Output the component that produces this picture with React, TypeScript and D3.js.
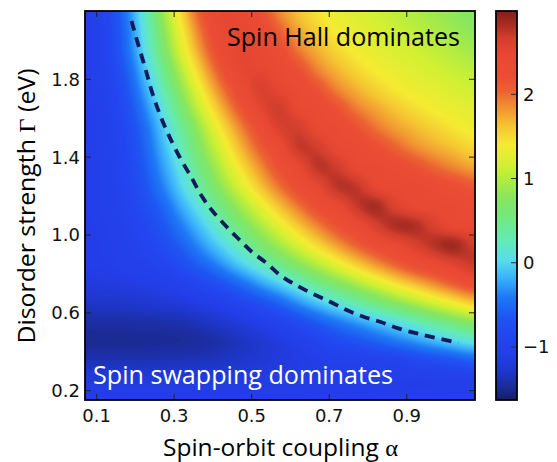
import React, { useMemo } from 'react';
import * as d3 from 'd3';

// grid nodes (alpha columns, Gamma rows from top to bottom)
const alphaNodes = [0.07, 0.12, 0.17, 0.22, 0.27, 0.32, 0.37, 0.42, 0.47, 0.52, 0.57, 0.62, 0.67, 0.72, 0.77, 0.82, 0.87, 0.92, 0.97, 1.02, 1.07];
const gammaNodes = [2.15, 2.05, 1.95, 1.85, 1.75, 1.65, 1.55, 1.45, 1.35, 1.25, 1.15, 1.05, 0.95, 0.85, 0.75, 0.65, 0.55, 0.45, 0.35, 0.25, 0.15];

const values = [
  [-1.08, -0.92, -0.50, 0.14, 0.85, 1.53, 2.13, 2.47, 2.44, 2.25, 1.88, 1.63, 1.44, 1.32, 1.24, 1.15, 1.07, 0.99, 0.89, 0.81, 0.72],
  [-1.08, -0.93, -0.54, 0.07, 0.74, 1.39, 1.99, 2.42, 2.48, 2.37, 2.08, 1.77, 1.55, 1.39, 1.30, 1.22, 1.13, 1.06, 0.98, 0.89, 0.81],
  [-1.08, -0.93, -0.57, -0.01, 0.62, 1.25, 1.84, 2.31, 2.50, 2.44, 2.28, 1.95, 1.71, 1.52, 1.37, 1.29, 1.22, 1.15, 1.08, 1.00, 0.92],
  [-1.08, -0.96, -0.65, -0.14, 0.45, 1.05, 1.63, 2.14, 2.47, 2.51, 2.40, 2.20, 1.90, 1.69, 1.52, 1.39, 1.31, 1.24, 1.17, 1.11, 1.05],
  [-1.09, -0.98, -0.73, -0.27, 0.27, 0.84, 1.40, 1.92, 2.33, 2.60, 2.50, 2.37, 2.17, 1.90, 1.71, 1.55, 1.42, 1.33, 1.28, 1.21, 1.15],
  [-1.09, -1.00, -0.79, -0.40, 0.09, 0.63, 1.17, 1.68, 2.13, 2.49, 2.67, 2.45, 2.35, 2.18, 1.93, 1.76, 1.61, 1.48, 1.38, 1.32, 1.27],
  [-1.09, -1.02, -0.85, -0.52, -0.07, 0.42, 0.93, 1.43, 1.88, 2.27, 2.60, 2.65, 2.44, 2.35, 2.19, 1.97, 1.80, 1.67, 1.55, 1.44, 1.35],
  [-1.09, -1.02, -0.88, -0.58, -0.17, 0.28, 0.76, 1.22, 1.67, 2.07, 2.37, 2.71, 2.66, 2.44, 2.36, 2.23, 2.05, 1.87, 1.74, 1.63, 1.52],
  [-1.09, -1.03, -0.90, -0.64, -0.27, 0.13, 0.58, 1.02, 1.45, 1.84, 2.20, 2.45, 2.75, 2.67, 2.45, 2.40, 2.32, 2.19, 2.03, 1.89, 1.77],
  [-1.09, -1.03, -0.92, -0.70, -0.38, 0.00, 0.40, 0.81, 1.21, 1.60, 1.96, 2.27, 2.48, 2.75, 2.73, 2.48, 2.43, 2.40, 2.33, 2.24, 2.13],
  [-1.09, -1.04, -0.95, -0.78, -0.53, -0.19, 0.16, 0.54, 0.91, 1.28, 1.63, 1.96, 2.25, 2.43, 2.71, 2.83, 2.59, 2.45, 2.43, 2.40, 2.34],
  [-1.10, -1.06, -0.98, -0.86, -0.66, -0.38, -0.07, 0.26, 0.61, 0.95, 1.28, 1.61, 1.91, 2.18, 2.38, 2.63, 2.81, 2.80, 2.61, 2.45, 2.43],
  [-1.10, -1.08, -1.01, -0.92, -0.77, -0.56, -0.29, -0.01, 0.29, 0.61, 0.92, 1.22, 1.52, 1.80, 2.06, 2.28, 2.43, 2.61, 2.77, 2.86, 2.68],
  [-1.10, -1.09, -1.05, -0.99, -0.90, -0.75, -0.55, -0.32, -0.06, 0.20, 0.48, 0.76, 1.03, 1.30, 1.57, 1.82, 2.05, 2.26, 2.40, 2.56, 2.70],
  [-1.18, -1.17, -1.15, -1.12, -1.07, -0.98, -0.86, -0.70, -0.50, -0.27, -0.04, 0.21, 0.47, 0.71, 0.96, 1.20, 1.44, 1.66, 1.87, 2.08, 2.26],
  [-1.30, -1.29, -1.28, -1.26, -1.23, -1.19, -1.12, -1.03, -0.90, -0.73, -0.55, -0.32, -0.10, 0.11, 0.32, 0.54, 0.75, 0.96, 1.17, 1.38, 1.57],
  [-1.44, -1.43, -1.43, -1.42, -1.41, -1.39, -1.34, -1.27, -1.18, -1.08, -0.95, -0.79, -0.61, -0.44, -0.28, -0.11, 0.05, 0.23, 0.41, 0.59, 0.77],
  [-1.49, -1.49, -1.49, -1.48, -1.48, -1.47, -1.45, -1.40, -1.33, -1.25, -1.16, -1.06, -0.94, -0.80, -0.70, -0.58, -0.45, -0.32, -0.18, -0.05, 0.08],
  [-1.37, -1.37, -1.37, -1.37, -1.36, -1.35, -1.34, -1.31, -1.27, -1.23, -1.18, -1.14, -1.09, -1.04, -1.02, -0.99, -0.95, -0.85, -0.78, -0.70, -0.60],
  [-1.17, -1.17, -1.17, -1.17, -1.17, -1.17, -1.17, -1.16, -1.15, -1.14, -1.13, -1.12, -1.11, -1.10, -1.10, -1.10, -1.09, -1.08, -1.07, -1.06, -1.05],
  [-1.10, -1.10, -1.10, -1.10, -1.10, -1.10, -1.10, -1.10, -1.10, -1.09, -1.09, -1.09, -1.08, -1.08, -1.08, -1.07, -1.07, -1.06, -1.06, -1.05, -1.05],
];

// dashed boundary curve
const dashAlpha = [0.19, 0.207, 0.225, 0.242, 0.263, 0.285, 0.315, 0.345, 0.371, 0.397, 0.431, 0.465, 0.5, 0.539, 0.573, 0.607, 0.655, 0.702, 0.745, 0.788, 0.831, 0.878, 0.926, 0.973, 1.033];
const dashGamma = [2.10, 1.98, 1.86, 1.74, 1.62, 1.517, 1.397, 1.294, 1.20, 1.128, 1.051, 0.982, 0.914, 0.854, 0.794, 0.751, 0.70, 0.657, 0.614, 0.58, 0.554, 0.52, 0.494, 0.472, 0.445];

const xTicks = [0.1, 0.3, 0.5, 0.7, 0.9];
const yTicks = [0.2, 0.6, 1.0, 1.4, 1.8];
const cbTicks = [-1, 0, 1, 2];

const cmapValues = [-1.63, -1.5, -1.3, -1.1, -0.85, -0.65, -0.41, -0.17, 0.03, 0.27, 0.55, 0.77, 0.96, 1.16, 1.40, 1.63, 1.87, 2.03, 2.20, 2.47, 2.67, 2.82, 2.99];
const cmapColors = ['#141e64', '#1a2a92', '#1e36c8', '#233ee8', '#2346f0', '#1e55f2', '#1e78f5', '#3cb4fa', '#5adceb', '#64ebb4', '#73e87d', '#87e65f', '#aaeb46', '#d2f032', '#f5eb32', '#f5c332', '#f08c32', '#eb6432', '#eb4e34', '#e84832', '#d23e2d', '#aa2d23', '#7d2019'];

const PL = 85, PR = 475, PT = 11, PB = 400;
const CBL = 496, CBR = 517;

function cr(p0: number, p1: number, p2: number, p3: number, t: number) {
  return 0.5 * (2 * p1 + (-p0 + p2) * t + (2 * p0 - 5 * p1 + 4 * p2 - p3) * t * t + (-p0 + 3 * p1 - 3 * p2 + p3) * t * t * t);
}

export default function App() {
  const x = d3.scaleLinear().domain([0.07, 1.076]).range([PL, PR]);
  const y = d3.scaleLinear().domain([0.152, 2.151]).range([PB, PT]);
  const cbY = d3.scaleLinear().domain([-1.63, 2.99]).range([PB, PT]);
  const color = d3.scaleLinear<string>().domain(cmapValues).range(cmapColors).interpolate(d3.interpolateRgb).clamp(true);

  const href = useMemo(() => {
    const w = PR - PL, h = PB - PT;
    const canvas = document.createElement('canvas');
    canvas.width = w; canvas.height = h;
    const ctx = canvas.getContext('2d');
    if (!ctx) return '';
    const img = ctx.createImageData(w, h);
    const N = 600;
    const lut: number[][] = [];
    for (let k = 0; k <= N; k++) {
      const v = -1.63 + (k / N) * (2.99 + 1.63);
      const c = d3.rgb(color(v));
      lut.push([c.r, c.g, c.b]);
    }
    const nA = alphaNodes.length, nG = gammaNodes.length;
    const da = alphaNodes[1] - alphaNodes[0];
    const dg = gammaNodes[0] - gammaNodes[1];
    const cl = (i: number, n: number) => Math.max(0, Math.min(n - 1, i));
    for (let py = 0; py < h; py++) {
      const g = y.invert(PT + py + 0.5);
      let fj = (gammaNodes[0] - g) / dg;
      fj = Math.max(0, Math.min(nG - 1.0001, fj));
      const j0 = Math.floor(fj), tj = fj - j0;
      for (let px = 0; px < w; px++) {
        const a = x.invert(PL + px + 0.5);
        let fi = (a - alphaNodes[0]) / da;
        fi = Math.max(0, Math.min(nA - 1.0001, fi));
        const i0 = Math.floor(fi), ti = fi - i0;
        const rows: number[] = [];
        for (let dj = -1; dj <= 2; dj++) {
          const r = values[cl(j0 + dj, nG)];
          rows.push(cr(r[cl(i0 - 1, nA)], r[cl(i0, nA)], r[cl(i0 + 1, nA)], r[cl(i0 + 2, nA)], ti));
        }
        const v = cr(rows[0], rows[1], rows[2], rows[3], tj);
        let k = Math.round(((v + 1.63) / (2.99 + 1.63)) * N);
        k = Math.max(0, Math.min(N, k));
        const c = lut[k];
        const idx = (py * w + px) * 4;
        img.data[idx] = c[0]; img.data[idx + 1] = c[1]; img.data[idx + 2] = c[2]; img.data[idx + 3] = 255;
      }
    }
    ctx.putImageData(img, 0, 0);
    return canvas.toDataURL();
  }, []);

  const dashLine = d3.line<number>()
    .x((_, i) => x(dashAlpha[i]))
    .y((_, i) => y(dashGamma[i]))
    .curve(d3.curveCatmullRom)(dashAlpha) || '';

  const tickFont = { fontFamily: 'DejaVu Sans', fontSize: 18, fill: '#111' } as const;
  const labFont = '"Open Sans", Lato, sans-serif';

  return (
    <svg width={557} height={462} style={{ position: 'absolute', left: 0, top: 0, background: '#fff' }}>
      <defs>
        <linearGradient id="cbgrad" x1="0" y1="1" x2="0" y2="0">
          {cmapValues.map((v, i) => (
            <stop key={i} offset={(v + 1.63) / (2.99 + 1.63)} stopColor={cmapColors[i]} />
          ))}
        </linearGradient>
      </defs>
      <image href={href} x={PL} y={PT} width={PR - PL} height={PB - PT} preserveAspectRatio="none" />
      <path d={dashLine} fill="none" stroke="#121c5a" strokeWidth={3.8} strokeDasharray="10 7" />
      {xTicks.map(t => (
        <g key={'xt' + t}>
          <line x1={x(t)} x2={x(t)} y1={PB} y2={PB - 6} stroke="#222" strokeWidth={1} />
          <line x1={x(t)} x2={x(t)} y1={PT} y2={PT + 6} stroke="#222" strokeWidth={1} />
          <text x={x(t)} y={422} textAnchor="middle" {...tickFont}>{t.toFixed(1)}</text>
        </g>
      ))}
      {yTicks.map(t => (
        <g key={'yt' + t}>
          <line x1={PL} x2={PL + 6} y1={y(t)} y2={y(t)} stroke="#222" strokeWidth={1} />
          <line x1={PR} x2={PR - 6} y1={y(t)} y2={y(t)} stroke="#222" strokeWidth={1} />
          <text x={80} y={y(t)} dy="0.36em" textAnchor="end" {...tickFont}>{t.toFixed(1)}</text>
        </g>
      ))}
      <rect x={PL} y={PT} width={PR - PL} height={PB - PT} fill="none" stroke="#000" strokeWidth={1.8} />
      <text x={227} y={45.5} fontFamily={labFont} fontSize={25} fill="#000" textLength={233} lengthAdjust="spacingAndGlyphs">Spin Hall dominates</text>
      <text x={93} y={384} fontFamily={labFont} fontSize={25} fill="#fff" textLength={300} lengthAdjust="spacingAndGlyphs">Spin swapping dominates</text>
      <text x={280.5} y={456} textAnchor="middle" fontFamily={labFont} fontSize={23} fill="#000" textLength={235} lengthAdjust="spacingAndGlyphs">
        Spin-orbit coupling <tspan fontFamily="'Liberation Serif', serif">α</tspan>
      </text>
      <text transform={`translate(35,206) rotate(-90)`} textAnchor="middle" fontFamily={labFont} fontSize={23} fill="#000" textLength={275} lengthAdjust="spacingAndGlyphs">
        Disorder strength <tspan fontFamily="'Liberation Serif', serif">Γ</tspan> (eV)
      </text>
      <rect x={CBL} y={PT} width={CBR - CBL} height={PB - PT} fill="url(#cbgrad)" />
      {cbTicks.map(t => (
        <g key={'cb' + t}>
          <line x1={CBR - 6} x2={CBR} y1={cbY(t)} y2={cbY(t)} stroke="#333" strokeWidth={1} />
          <text x={523} y={cbY(t)} dy="0.36em" {...tickFont}>{t < 0 ? '\u2212' + Math.abs(t) : String(t)}</text>
        </g>
      ))}
      <rect x={CBL} y={PT} width={CBR - CBL} height={PB - PT} fill="none" stroke="#000" strokeWidth={1.8} />
    </svg>
  );
}
